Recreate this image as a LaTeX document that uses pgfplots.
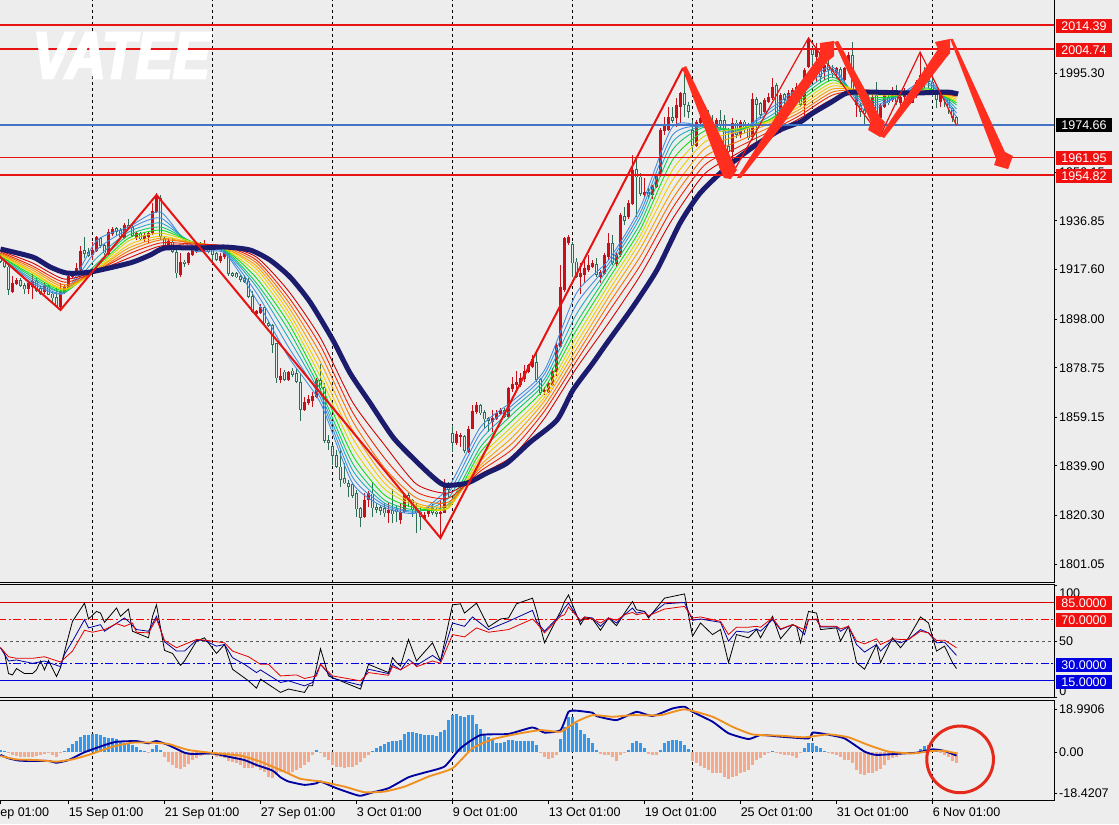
\documentclass[border=0pt]{standalone}
\usepackage{fontspec}
\setmainfont{Liberation Sans}
\newfontfamily\logofont{Liberation Sans}[BoldItalicFeatures={FakeBold=4}]
\usepackage{pgfplots}
\usepackage{pgfplotstable}
\pgfplotsset{compat=1.18}
\newcommand\ticks{\fontsize{9.4}{10}\selectfont}
\definecolor{chartbg}{HTML}{EDEDED}
\definecolor{candlered}{HTML}{C8101A}
\definecolor{candlegreen}{HTML}{2E6E55}
\definecolor{candlefill}{HTML}{E3EFE9}
\definecolor{lvlred}{HTML}{E81212}
\definecolor{lvlblue}{HTML}{4472C4}
\definecolor{boxred}{HTML}{F01010}
\definecolor{boxblue}{HTML}{0000E0}
\definecolor{navy1}{HTML}{1C1C6E}
\definecolor{arrowred}{HTML}{FF2E1E}
\definecolor{histblue}{HTML}{3399EE}
\definecolor{histsalmon}{HTML}{F7A98A}
\definecolor{macdblue}{HTML}{0000A0}
\definecolor{macdorange}{HTML}{F09020}
\definecolor{r1}{HTML}{3F8CE0}
\definecolor{r2}{HTML}{3F8CE0}
\definecolor{r3}{HTML}{20A8C0}
\definecolor{r4}{HTML}{10C860}
\definecolor{r5}{HTML}{10E010}
\definecolor{r6}{HTML}{D8D800}
\definecolor{r7}{HTML}{F8C800}
\definecolor{r8}{HTML}{F8A000}
\definecolor{r9}{HTML}{F87000}
\definecolor{r10}{HTML}{F02000}
\definecolor{r11}{HTML}{D00000}

% i t(1 up/red, 0 down/hollow) high top bottom low
\pgfplotstableread{
i t h u b l
0 0 1924.0 1923.3 1920.7 1920.0
1 0 1922.7 1920.7 1918.7 1918.0
2 0 1919.4 1918.7 1909.5 1907.5
3 1 1915.0 1912.1 1908.8 1908.4
4 1 1914.1 1913.4 1911.8 1911.4
5 0 1914.1 1913.4 1911.0 1910.5
6 0 1912.1 1911.4 1909.7 1908.1
7 1 1913.4 1912.1 1909.7 1907.9
8 1 1915.8 1913.2 1910.8 1905.8
9 0 1914.7 1913.2 1909.2 1908.8
10 0 1911.0 1910.1 1907.9 1907.5
11 1 1912.4 1911.4 1908.8 1907.9
12 0 1911.4 1911.2 1907.7 1907.5
13 0 1909.2 1908.1 1906.2 1904.9
14 0 1910.1 1906.6 1903.1 1902.9
15 1 1912.1 1909.2 1902.9 1901.6
16 1 1911.4 1910.8 1908.4 1907.9
17 1 1915.8 1915.0 1909.7 1909.5
18 1 1917.1 1916.1 1914.7 1914.1
19 1 1920.0 1918.0 1916.1 1915.8
20 1 1926.9 1925.0 1917.4 1916.7
21 0 1930.6 1925.3 1923.7 1922.0
22 0 1926.0 1924.6 1923.1 1922.4
23 1 1928.6 1925.3 1923.3 1921.3
24 1 1930.8 1930.3 1925.0 1924.6
25 0 1930.6 1929.9 1926.9 1926.0
26 0 1927.7 1927.2 1924.0 1923.3
27 1 1933.5 1932.6 1923.7 1922.9
28 1 1934.5 1933.5 1931.6 1931.0
29 0 1934.5 1933.9 1932.6 1930.8
30 0 1933.9 1933.2 1930.6 1930.2
31 1 1935.8 1935.2 1929.9 1929.5
32 0 1937.4 1935.2 1934.3 1933.5
33 0 1935.8 1934.5 1930.8 1930.6
34 1 1932.5 1931.9 1929.9 1929.3
35 0 1932.5 1932.2 1929.5 1929.0
36 1 1931.9 1931.2 1929.5 1928.6
37 1 1932.5 1932.2 1930.6 1927.9
38 1 1943.8 1940.9 1931.9 1931.2
39 1 1947.7 1947.1 1940.5 1940.1
40 0 1947.1 1945.7 1930.6 1929.3
41 0 1930.8 1929.9 1926.9 1925.3
42 1 1929.9 1929.0 1926.0 1925.3
43 0 1929.9 1928.6 1924.6 1924.0
44 0 1925.3 1924.6 1916.1 1914.1
45 1 1924.0 1920.7 1915.4 1914.7
46 0 1921.3 1920.7 1919.8 1918.7
47 1 1924.6 1924.0 1920.0 1919.5
48 1 1927.3 1925.6 1923.3 1922.9
49 1 1928.6 1927.3 1924.6 1924.0
50 0 1928.6 1927.3 1926.0 1924.6
51 1 1929.3 1927.7 1926.4 1924.6
52 0 1927.3 1926.4 1924.6 1924.0
53 0 1927.3 1926.0 1923.3 1920.0
54 0 1924.6 1924.0 1921.3 1921.1
55 1 1924.0 1922.9 1920.9 1920.0
56 1 1926.0 1925.3 1922.4 1921.6
57 0 1926.4 1925.3 1915.8 1915.0
58 0 1916.7 1916.3 1915.1 1914.7
59 0 1916.7 1916.1 1914.5 1914.1
60 0 1915.4 1915.0 1913.4 1912.8
61 0 1915.4 1914.1 1912.8 1912.4
62 0 1914.1 1913.2 1906.8 1906.2
63 0 1909.2 1907.1 1900.9 1900.2
64 1 1901.6 1901.3 1900.0 1899.3
65 1 1903.9 1902.9 1900.5 1900.0
66 0 1902.9 1902.6 1896.3 1895.9
67 0 1897.3 1896.5 1895.2 1894.7
68 0 1896.0 1895.6 1887.7 1884.7
69 0 1888.6 1888.4 1874.5 1872.8
70 1 1878.5 1875.5 1873.9 1872.6
71 0 1877.8 1877.2 1873.9 1873.6
72 1 1877.6 1877.2 1873.9 1873.6
73 0 1878.5 1877.6 1875.9 1874.9
74 0 1878.5 1876.5 1873.2 1872.6
75 0 1876.5 1873.2 1862.0 1857.8
76 1 1867.3 1865.3 1862.0 1861.7
77 1 1867.9 1866.2 1864.9 1864.0
78 1 1869.3 1867.5 1865.7 1863.3
79 1 1874.5 1873.9 1867.3 1866.6
80 0 1880.2 1873.9 1870.6 1867.9
81 0 1872.6 1871.2 1849.9 1848.8
82 0 1852.1 1850.1 1849.1 1846.2
83 0 1848.1 1847.8 1843.8 1840.2
84 0 1846.2 1844.1 1839.6 1838.9
85 0 1846.2 1839.6 1834.3 1831.4
86 0 1840.9 1835.0 1833.0 1832.7
87 0 1834.3 1833.2 1831.7 1827.7
88 0 1833.0 1832.7 1828.0 1827.4
89 0 1830.3 1829.3 1822.7 1819.8
90 0 1823.7 1823.1 1819.5 1815.6
91 1 1829.3 1826.6 1819.8 1819.5
92 1 1830.1 1829.3 1826.4 1823.7
93 0 1833.6 1829.0 1823.1 1819.8
94 0 1825.1 1823.7 1822.4 1821.1
95 0 1824.4 1823.7 1822.0 1820.5
96 0 1825.1 1823.1 1821.1 1819.8
97 1 1825.1 1822.4 1821.1 1817.2
98 0 1830.6 1822.4 1820.7 1817.2
99 0 1824.4 1822.7 1821.6 1817.8
100 1 1825.1 1821.8 1818.5 1816.9
101 1 1829.0 1828.4 1821.8 1821.1
102 0 1829.3 1828.4 1826.4 1823.7
103 0 1827.0 1826.6 1822.4 1819.8
104 0 1825.1 1823.1 1821.1 1813.2
105 0 1823.7 1821.8 1819.8 1814.5
106 1 1821.8 1820.5 1819.1 1818.5
107 1 1823.7 1823.1 1820.9 1819.8
108 0 1824.8 1823.1 1821.4 1820.5
109 0 1823.1 1821.8 1820.9 1819.8
110 1 1826.4 1821.8 1820.9 1811.2
111 1 1834.9 1832.3 1821.4 1821.1
112 0 1833.6 1833.0 1830.3 1827.7
113 0 1856.1 1853.0 1849.1 1845.5
114 1 1853.8 1852.5 1848.8 1848.2
115 1 1852.8 1852.0 1851.4 1847.5
116 0 1852.1 1851.7 1845.9 1844.9
117 1 1855.7 1854.7 1845.5 1845.1
118 1 1864.0 1861.7 1854.7 1854.4
119 1 1865.3 1864.0 1861.3 1860.4
120 0 1864.6 1864.0 1860.7 1860.0
121 0 1862.0 1861.3 1858.3 1855.1
122 0 1859.1 1858.7 1857.6 1853.4
123 1 1862.0 1858.7 1857.4 1853.4
124 1 1862.0 1860.7 1858.4 1858.0
125 1 1862.7 1862.0 1860.4 1860.0
126 0 1862.7 1862.0 1859.4 1858.7
127 1 1871.2 1870.6 1859.1 1858.7
128 1 1874.9 1872.3 1870.2 1869.3
129 1 1877.4 1873.2 1871.9 1869.9
130 1 1876.5 1874.5 1871.9 1871.2
131 1 1879.8 1877.6 1874.1 1873.2
132 1 1880.2 1879.8 1877.2 1876.5
133 1 1883.8 1882.4 1879.1 1878.5
134 0 1885.1 1881.1 1873.9 1873.2
135 0 1874.5 1874.1 1868.9 1867.9
136 1 1871.2 1869.9 1869.3 1867.9
137 1 1873.2 1872.6 1869.3 1868.9
138 1 1878.5 1877.6 1871.9 1871.5
139 1 1888.4 1887.7 1877.2 1875.5
140 1 1919.3 1910.8 1887.0 1886.4
141 1 1930.6 1929.9 1909.5 1908.8
142 1 1931.2 1930.6 1927.9 1927.3
143 0 1928.6 1927.7 1920.0 1914.7
144 0 1922.0 1920.7 1914.7 1914.1
145 1 1920.0 1916.3 1914.7 1908.1
146 1 1921.3 1918.0 1915.4 1912.1
147 1 1923.3 1919.3 1917.4 1916.7
148 1 1921.3 1920.0 1918.7 1918.0
149 0 1922.0 1919.7 1915.4 1914.7
150 1 1917.4 1916.7 1914.7 1912.3
151 1 1924.0 1923.3 1916.0 1915.6
152 1 1931.9 1927.9 1922.6 1921.3
153 0 1931.2 1927.9 1920.0 1919.3
154 1 1924.0 1923.3 1919.7 1918.9
155 1 1940.0 1939.1 1923.3 1922.6
156 0 1942.4 1938.7 1936.9 1935.2
157 1 1945.1 1944.0 1938.5 1937.4
158 1 1962.9 1956.9 1943.7 1943.1
159 0 1960.9 1957.2 1954.0 1938.5
160 0 1955.6 1954.3 1947.4 1946.6
161 1 1953.6 1948.4 1947.1 1946.4
162 0 1949.7 1948.1 1946.6 1945.3
163 1 1951.0 1950.6 1947.1 1945.3
164 1 1955.4 1955.0 1950.3 1949.7
165 1 1973.4 1972.8 1954.6 1954.3
166 1 1978.0 1974.3 1972.5 1970.8
167 1 1982.0 1977.8 1972.8 1972.5
168 0 1982.0 1977.8 1976.5 1975.7
169 1 1985.3 1982.7 1977.4 1974.1
170 1 1987.9 1987.3 1982.0 1975.4
171 0 1996.5 1987.3 1982.7 1978.0
172 0 1984.0 1982.7 1980.0 1977.4
173 0 1976.7 1972.8 1966.4 1964.2
174 1 1976.7 1976.1 1966.4 1965.9
175 1 1978.7 1977.4 1975.4 1974.3
176 0 1980.0 1978.7 1976.7 1974.1
177 0 1980.7 1978.7 1975.4 1974.1
178 0 1978.7 1976.1 1974.1 1973.4
179 1 1977.4 1976.7 1973.4 1972.8
180 0 1980.7 1976.7 1974.7 1973.4
181 0 1978.7 1976.7 1966.4 1965.5
182 0 1973.4 1966.4 1964.2 1962.2
183 1 1977.4 1975.7 1964.2 1959.6
184 0 1976.7 1975.7 1970.8 1969.5
185 1 1976.7 1976.1 1970.8 1969.5
186 0 1976.7 1976.1 1972.8 1971.4
187 0 1975.4 1973.4 1969.5 1968.8
188 1 1987.3 1984.9 1969.9 1968.8
189 0 1985.9 1984.9 1982.7 1962.9
190 0 1984.0 1983.3 1978.7 1977.4
191 1 1985.3 1984.6 1980.0 1979.6
192 1 1987.3 1985.9 1984.0 1983.3
193 1 1993.2 1989.9 1985.3 1984.6
194 0 1991.2 1990.6 1978.7 1978.0
195 1 1987.3 1986.6 1978.7 1971.4
196 0 1987.5 1986.9 1984.6 1978.7
197 1 1988.6 1987.3 1984.6 1982.0
198 1 1989.3 1988.6 1984.6 1983.3
199 1 1991.2 1989.9 1987.9 1985.9
200 0 1987.3 1985.9 1982.7 1982.0
201 1 1997.2 1996.5 1982.7 1978.7
202 1 2009.7 2008.4 1997.8 1997.2
203 0 2005.7 2004.7 2002.4 1993.2
204 1 2007.0 2004.4 2001.8 1991.9
205 0 2004.4 2003.8 1993.9 1991.2
206 1 2003.1 1998.5 1995.8 1992.5
207 0 2003.1 1998.5 1996.5 1991.9
208 0 1998.5 1996.8 1995.2 1993.2
209 1 1997.8 1997.2 1995.2 1993.2
210 0 1997.6 1996.8 1992.5 1990.6
211 1 1997.8 1997.2 1992.5 1991.9
212 1 2003.8 2002.4 1996.5 1995.8
213 0 2007.7 2002.4 1987.3 1986.6
214 1 1988.6 1987.3 1982.6 1978.0
215 0 1984.0 1982.6 1980.0 1978.0
216 0 1985.3 1980.7 1979.3 1974.7
217 0 1987.3 1985.3 1980.0 1979.3
218 1 1988.6 1986.0 1982.6 1981.3
219 0 1991.9 1986.6 1979.3 1978.0
220 1 1983.3 1982.6 1977.4 1976.1
221 1 1987.9 1986.6 1982.0 1981.3
222 0 1987.3 1985.7 1983.3 1982.6
223 1 1989.9 1988.6 1984.6 1983.9
224 0 1990.6 1988.6 1983.9 1982.6
225 1 1987.3 1986.0 1983.3 1978.7
226 1 1989.2 1987.9 1985.7 1984.6
227 0 1988.6 1987.3 1985.3 1983.9
228 1 1988.6 1986.6 1983.6 1983.3
229 1 1992.5 1991.9 1986.2 1985.3
230 1 2003.1 1994.5 1991.5 1990.6
231 0 1997.8 1995.2 1991.2 1989.2
232 0 1995.2 1993.2 1991.9 1989.2
233 0 1995.8 1991.9 1987.3 1985.9
234 0 1988.6 1987.3 1984.6 1981.3
235 1 1988.6 1987.3 1983.9 1982.0
236 0 1988.6 1987.3 1984.6 1982.0
237 0 1985.9 1985.3 1981.3 1979.3
238 0 1982.0 1981.3 1977.4 1976.1
239 0 1978.3 1978.0 1974.7 1974.3
}\candles

\pgfplotstableread{
i a b c d e f g h j k m
0 1922.1 1922.5 1922.5 1922.9 1922.9 1923.3 1923.7 1923.7 1924.1 1924.5 1924.9
8 1912.2 1913.0 1913.8 1914.6 1915.4 1916.2 1916.6 1917.4 1918.2 1919.0 1920.2
16 1908.3 1908.3 1908.7 1908.7 1909.1 1909.5 1909.9 1910.7 1911.5 1912.6 1913.8
24 1928.9 1925.3 1922.1 1919.8 1918.6 1917.8 1917.4 1917.4 1917.0 1917.0 1917.0
32 1934.4 1933.6 1932.4 1931.2 1930.0 1928.9 1927.3 1926.1 1924.9 1923.7 1922.1
40 1940.3 1938.0 1936.0 1934.4 1933.2 1932.0 1930.8 1930.0 1929.3 1928.1 1926.9
48 1925.3 1926.9 1928.1 1928.5 1928.5 1928.5 1928.1 1928.1 1928.1 1927.7 1927.3
56 1924.1 1924.5 1924.9 1925.3 1925.7 1925.7 1926.1 1926.1 1926.5 1926.9 1926.9
64 1905.5 1908.3 1910.7 1912.2 1914.2 1916.2 1917.8 1919.0 1920.2 1921.3 1922.5
72 1883.0 1886.9 1890.5 1893.7 1896.4 1898.8 1900.8 1902.8 1904.7 1906.7 1909.1
80 1864.8 1866.7 1868.3 1869.9 1872.3 1875.1 1877.8 1881.0 1884.2 1887.4 1890.5
88 1833.1 1835.5 1838.3 1841.0 1844.2 1847.4 1851.0 1854.1 1857.7 1861.2 1865.2
96 1823.6 1824.4 1825.2 1826.4 1828.4 1830.8 1833.1 1835.5 1839.1 1843.0 1848.2
104 1821.3 1821.7 1822.0 1822.4 1823.2 1824.0 1824.4 1825.2 1827.2 1829.6 1832.7
112 1831.5 1829.2 1827.2 1824.8 1823.6 1823.2 1823.6 1824.4 1825.6 1827.2 1829.2
120 1855.3 1852.9 1850.1 1847.4 1845.4 1843.4 1841.8 1840.2 1839.1 1837.9 1836.7
128 1865.6 1864.0 1862.4 1860.4 1858.0 1855.7 1853.7 1851.3 1849.0 1846.6 1843.8
136 1877.8 1876.2 1874.3 1872.7 1870.7 1868.7 1867.1 1865.6 1863.6 1861.6 1858.8
144 1908.3 1903.9 1900.0 1896.4 1893.7 1890.9 1888.5 1886.1 1883.8 1881.4 1878.6
152 1921.3 1919.8 1918.2 1916.2 1913.8 1911.5 1909.1 1906.7 1903.9 1900.8 1896.4
160 1942.3 1940.3 1938.4 1936.0 1933.6 1931.2 1928.9 1926.1 1922.9 1919.4 1915.4
168 1974.0 1970.8 1968.0 1964.9 1960.9 1957.0 1953.0 1949.0 1945.5 1941.9 1937.6
176 1974.0 1974.4 1974.4 1974.0 1972.4 1970.4 1968.0 1965.3 1962.1 1958.9 1955.4
184 1971.6 1972.0 1972.4 1972.8 1973.2 1973.2 1972.0 1970.4 1968.0 1965.7 1963.3
192 1980.7 1979.5 1977.9 1976.7 1976.7 1976.3 1975.9 1975.1 1973.6 1972.0 1970.8
200 1989.8 1988.6 1987.0 1985.8 1984.6 1983.4 1982.3 1981.1 1979.9 1978.7 1977.5
208 1997.7 1996.5 1994.9 1993.7 1992.6 1991.4 1990.2 1989.0 1987.8 1986.6 1985.0
216 1980.7 1982.3 1983.5 1984.6 1985.8 1987.0 1987.8 1988.2 1988.6 1988.6 1988.2
224 1985.8 1985.8 1986.2 1986.2 1986.2 1986.6 1986.6 1986.6 1987.0 1987.0 1987.4
232 1992.6 1991.4 1990.6 1989.4 1989.0 1988.6 1988.2 1987.8 1987.8 1987.4 1987.4
239 1977.9 1979.5 1981.1 1982.7 1983.5 1984.2 1985.0 1985.8 1986.2 1986.6 1986.6
}\ribbon

\pgfplotstableread{
i v
0 0.9
1 0.6
2 -0.6
3 -1.3
4 -1.8
5 -2.1
6 -2.1
7 -2.1
8 -2.1
9 -1.8
10 -1.3
11 -0.9
12 -0.6
13 -1.3
14 -2.1
15 -0.6
16 0.6
17 1.6
18 3.6
19 4.9
20 6.8
21 7.6
22 7.7
23 7.9
24 8.0
25 7.6
26 6.8
27 6.5
28 6.5
29 5.7
30 4.6
31 3.9
32 3.9
33 3.1
34 2.4
35 0.9
36 0.6
37 -0.6
38 1.2
39 3.1
40 0.9
41 -2.1
42 -4.3
43 -5.8
44 -7.3
45 -7.7
46 -6.5
47 -5.4
48 -3.6
49 -2.8
50 -1.8
51 -1.3
52 -1.2
53 -1.5
54 -2.1
55 -2.1
56 -2.8
57 -3.9
58 -4.3
59 -5.1
60 -5.8
61 -7.3
62 -7.3
63 -7.3
64 -6.8
65 -8.0
66 -8.8
67 -11.0
68 -11.8
69 -10.3
70 -8.8
71 -8.8
72 -9.2
73 -8.8
74 -8.0
75 -7.3
76 -5.8
77 -4.3
78 -1.3
79 0.9
80 -0.3
81 -2.1
82 -3.6
83 -5.8
84 -6.8
85 -6.8
86 -7.3
87 -6.8
88 -6.5
89 -5.8
90 -4.3
91 -2.8
92 -1.3
93 0.6
94 1.6
95 2.8
96 3.4
97 4.6
98 4.9
99 4.9
100 5.5
101 8.0
102 9.1
103 9.1
104 8.3
105 7.9
106 7.6
107 7.6
108 7.6
109 7.1
110 9.1
111 9.8
112 14.3
113 16.5
114 17.0
115 16.1
116 15.8
117 16.5
118 16.5
119 12.5
120 10.1
121 7.6
122 6.8
123 5.7
124 4.2
125 3.9
126 4.6
127 5.4
128 5.4
129 5.1
130 5.1
131 5.1
132 5.1
133 5.1
134 3.1
135 -0.6
136 -2.1
137 -3.3
138 -2.8
139 -1.3
140 5.7
141 11.3
142 15.5
143 15.8
144 12.8
145 9.8
146 8.0
147 6.1
148 3.9
149 0.9
150 -0.9
151 -1.3
152 -1.3
153 -2.1
154 -3.9
155 -1.3
156 -0.6
157 0.9
158 3.9
159 5.1
160 3.9
161 1.6
162 -0.9
163 -1.3
164 -1.3
165 0.9
166 3.9
167 5.1
168 5.4
169 5.4
170 5.1
171 3.1
172 1.2
173 -3.9
174 -5.1
175 -6.2
176 -7.3
177 -8.0
178 -9.2
179 -9.2
180 -9.2
181 -11.3
182 -12.2
183 -11.0
184 -10.7
185 -9.2
186 -8.8
187 -8.0
188 -5.8
189 -3.6
190 -2.8
191 -1.3
192 -0.3
193 0.6
194 -0.3
195 -0.9
196 -1.3
197 -1.3
198 -1.8
199 -2.8
200 -0.6
201 1.6
202 3.9
203 3.9
204 2.7
205 1.6
206 0.6
207 -0.3
208 -0.9
209 -1.3
210 -2.1
211 -3.6
212 -3.6
213 -4.8
214 -8.0
215 -9.8
216 -10.3
217 -9.5
218 -9.2
219 -8.3
220 -7.7
221 -5.8
222 -3.6
223 -2.8
224 -2.1
225 -1.3
226 -0.9
227 -0.6
228 -0.3
230 1.2
231 2.7
232 3.1
233 0.9
234 0.3
235 -0.1
236 -1.3
237 -2.1
238 -3.9
239 -4.8
}\hist

\newcommand\rib[2]{\addplot[color=#2, line width=0.65pt, smooth, tension=0.4] table[x=i,y=#1]{\ribbon};}
\newcommand\lab[4]{\node[fill=#1, text=#2, minimum width=42pt, minimum height=10.5pt, inner sep=0pt, font=\ticks] at ({1084*0.75pt},{618pt-#3*0.75pt}) {#4};}

\pgfplotsset{
  base/.style={
    scale only axis, width=792pt,
    xmin=-0.625, xmax=263.375,
    no markers,
    axis line style={black, line width=0.75pt},
    tick style={black, line width=0.75pt},
    major tick length=2.5pt,
    tick align=outside,
    tick label style={font=\ticks, inner sep=0pt},
    ytick pos=right, yticklabel pos=right,
    y tick label style={anchor=west, xshift=1.2pt},
    scaled ticks=false,
    major grid style={black, line width=0.75pt, dash pattern=on 2.25pt off 2.25pt},
  },
  vdash/.style={
    xtick={23,53,83,113,143,173,203,233}, xticklabels={},
    xmajorgrids, x tick style={draw=none},
  },
  down/.style={restrict expr to domain={\thisrow{t}}{-0.5:0.5}},
  up/.style={restrict expr to domain={\thisrow{t}}{0.5:1.5}},
}

\begin{document}
\begin{tikzpicture}
\path[use as bounding box] (0,0) rectangle (839.25pt,618pt);
\fill[chartbg] (0,0) rectangle (839.25pt,618pt);

% price panel
\begin{axis}[base, vdash,
  at={(-1.5pt,619.5pt)}, anchor=north west, height=438.75pt,
  ymin=1793.6, ymax=2025,
  ytick={1801.05,1820.30,1839.90,1859.15,1878.75,1898.00,1917.60,1936.85,1956.15,1995.30},
  yticklabels={1801.05,1820.30,1839.90,1859.15,1878.75,1898.00,1917.60,1936.85,1956.15,1995.30},
]
% wicks
\addplot[down, color=candlegreen, line width=0.75pt, quiver={u=0, v=\thisrow{h}-\thisrow{l}}] table[x=i, y=l] {\candles};
\addplot[up, color=candlered, line width=0.75pt, quiver={u=0, v=\thisrow{h}-\thisrow{l}}] table[x=i, y=l] {\candles};
% bodies
\addplot[down, color=candlegreen, line width=2.25pt, quiver={u=0, v=\thisrow{u}-\thisrow{b}}] table[x=i, y=b] {\candles};
\addplot[down, color=candlefill, line width=0.75pt, quiver={u=0, v=\thisrow{u}-\thisrow{b}-0.6}] table[x=i, y expr=\thisrow{b}+0.3] {\candles};
\addplot[up, color=candlered, line width=2.25pt, quiver={u=0, v=\thisrow{u}-\thisrow{b}}] table[x=i, y=b] {\candles};
% ribbon
\rib{a}{r1}\rib{b}{r2}\rib{c}{r3}\rib{d}{r4}\rib{e}{r5}\rib{f}{r6}
\rib{g}{r7}\rib{h}{r8}\rib{j}{r9}\rib{k}{r10}\rib{m}{r11}
% slow average
\addplot[color=navy1, line width=3.75pt, smooth, tension=0.4] coordinates {
(0,1925.7)(8.1,1922.5)(12.4,1918.6)(16.6,1916.2)(22.4,1916.6)(32.4,1920.2)(37.4,1923.3)(41.1,1926.1)
(49.9,1926.1)(56.1,1926.5)(62.4,1925.3)(67.4,1921.3)(72.4,1914.6)(77.4,1904.7)(83.1,1889.7)(87.4,1876.6)
(92.4,1864.8)(98.1,1851.3)(103.1,1843.0)(108.1,1835.5)(111.1,1832.3)(116.6,1833.1)(121.6,1837.1)(126.6,1841.0)
(132.4,1849.3)(139.1,1858.0)(143.1,1869.9)(148.1,1880.6)(151.6,1888.5)(158.1,1902.8)(164.1,1917.4)(169.9,1936.0)
(174.9,1947.8)(181.6,1958.1)(188.1,1966.0)(194.9,1972.8)(199.9,1975.9)(203.1,1979.5)(207.4,1983.5)(211.6,1987.4)
(216.6,1987.8)(228.1,1987.4)(236.6,1987.8)(239.4,1987.0)};
% levels
\addplot[color=lvlred, line width=1.5pt] coordinates {(-0.625,2014.39)(263.375,2014.39)};
\addplot[color=lvlred, line width=1.2pt] coordinates {(-0.625,2004.74)(263.375,2004.74)};
\addplot[color=lvlblue, line width=1.2pt] coordinates {(-0.625,1974.66)(263.375,1974.66)};
\addplot[color=lvlred, line width=1.2pt] coordinates {(-0.625,1961.95)(263.375,1961.95)};
\addplot[color=lvlred, line width=1.5pt] coordinates {(-0.625,1954.82)(263.375,1954.82)};
% zigzag
\addplot[color=lvlred, line width=1.5pt] coordinates {(-0.625,1923.3)(15,1901.6)(39,1947.1)(110,1811.4)(170.6,1997.3)};
\addplot[color=lvlred, line width=0.9pt] coordinates {(170.6,1997.3)(182.5,1954.2)(202,2009.2)(219.9,1970.4)(229.9,2003.6)(239,1974.7)};
% arrows
\addplot[fill=arrowred, draw=none] coordinates {(170.4,1997.3)(171.4,1998.1)(184.1,1957.0)(182.6,1953.4)(180.9,1953.8)(179.9,1957.0)} --cycle;
\addplot[fill=arrowred, draw=none] coordinates {(184.1,1953.8)(194.9,1980.7)(204.9,2002.4)(204.9,2007.2)(208.4,2008.0)(208.4,2002.0)(206.6,1999.7)(194.9,1973.6)(185.1,1953.8)} --cycle;
\addplot[fill=arrowred, draw=none] coordinates {(208.4,2007.6)(209.4,2008.0)(219.9,1977.9)(221.1,1975.9)(219.9,1970.0)(216.9,1972.8)(217.6,1975.9)} --cycle;
\addplot[fill=arrowred, draw=none] coordinates {(219.9,1970.4)(234.4,2004.8)(233.6,2007.6)(237.4,2008.8)(237.4,2003.2)(236.4,2001.3)(220.9,1969.6)} --cycle;
\addplot[fill=arrowred, draw=none] coordinates {(237.4,2008.8)(238.1,2008.8)(251.1,1964.1)(253.1,1962.5)(251.9,1957.3)(248.4,1958.9)(248.9,1961.3)} --cycle;
\end{axis}
\node[text=white, inner sep=0pt] at (91pt,576.4pt) {\resizebox{133pt}{33.75pt}{\logofont\bfseries\itshape VATEE}};

% oscillator panel
\begin{axis}[base, vdash,
  at={(-1.5pt,179.25pt)}, anchor=north west, height=84.15pt,
  ymin=0, ymax=100.7,
  ytick={0,50,100}, yticklabels={,50,},
]
\addplot[color=red!85!black, line width=0.75pt] coordinates {(-0.625,85)(263.375,85)};
\addplot[color=red, line width=1pt, dash pattern=on 6pt off 2pt on 1.5pt off 2pt] coordinates {(-0.625,70)(263.375,70)};
\addplot[color=black!65, line width=0.75pt, dash pattern=on 2.25pt off 2.25pt] coordinates {(-0.625,50)(263.375,50)};
\addplot[color=boxblue, line width=1pt, dash pattern=on 6pt off 2pt on 1.5pt off 2pt] coordinates {(-0.625,30)(263.375,30)};
\addplot[color=boxblue, line width=0.75pt] coordinates {(-0.625,15)(263.375,15)};
\addplot[color=black, line width=0.6pt] coordinates {
(0,44.4)(1,39.9)(2,21.2)(3,20.0)(4,25.7)(6,21.2)(8,21.2)(9,24.5)(10,32.5)(11,24.5)(12,33.0)(13,25.7)(14,18.5)(15,26.5)
(17,54.7)(18,68.1)(21,84.4)(22,70.2)(24,77.0)(25,75.5)(26,67.2)(29,80.0)(30,72.6)(32,79.1)(33,59.2)(37,53.3)(38,72.6)
(39,82.9)(41,42.0)(43,39.3)(45,28.6)(46,32.5)(49,50.3)(51,53.3)(54,39.3)(56,47.3)(58,25.1)(62,14.7)(64,8.1)(65,16.2)
(70,4.3)(72,7.3)(76,4.3)(77,10.2)(78,10.2)(80,43.5)(82,19.1)(90,7.3)(92,29.5)(97,22.1)(98,35.5)(99,31.0)(100,28.0)
(102,51.8)(104,32.5)(108,48.8)(110,32.5)(113,82.9)(115,83.8)(116,75.5)(119,84.4)(122,63.1)(125,70.2)(127,71.1)(129,83.8)
(133,88.9)(134,77.0)(136,48.8)(140,77.0)(141,85.9)(142,91.8)(145,65.1)(146,71.1)(148,70.2)(150,60.1)(152,71.1)(154,64.2)
(156,75.5)(158,85.9)(159,78.5)(161,77.0)(162,71.1)(166,88.9)(171,92.7)(173,54.7)(175,66.6)(178,56.2)(180,60.7)(182,31.0)
(184,56.2)(187,53.3)(189,60.7)(190,53.3)(193,72.6)(195,52.4)(198,65.1)(199,63.6)(200,48.8)(202,77.0)(204,75.5)(205,60.7)
(209,62.2)(210,50.3)(212,63.6)(214,31.0)(216,25.1)(219,47.3)(220,31.0)(223,53.3)(225,44.4)(227,53.3)(230,72.0)(232,66.6)
(234,41.4)(236,45.8)(238,31.0)(239,25.7)};
\addplot[color=macdblue, line width=0.6pt] coordinates {
(0,44.4)(2,32.5)(4,33.4)(8,30.4)(11,32.5)(15,27.4)(16,38.4)(18,50.3)(21,69.6)(22,62.2)(25,65.1)(26,59.2)(31,71.1)(32,68.1)
(34,60.7)(37,59.2)(39,72.6)(41,49.7)(44,41.4)(46,41.4)(49,51.2)(51,50.9)(54,45.8)(56,47.3)(58,35.5)(61,29.5)(64,22.1)
(65,24.5)(70,13.2)(72,14.7)(76,10.2)(78,13.2)(80,29.5)(83,17.0)(90,10.8)(92,25.1)(97,21.2)(98,29.5)(100,24.5)(102,34.0)
(104,28.6)(108,37.5)(110,32.5)(113,66.6)(116,63.6)(118,72.0)(122,60.7)(127,68.1)(133,77.9)(134,68.1)(136,59.2)(140,74.0)
(141,80.0)(142,84.4)(145,68.1)(146,72.0)(148,71.1)(150,63.6)(152,71.1)(154,66.6)(156,74.0)(158,80.0)(159,75.5)(161,77.0)
(162,72.6)(166,83.8)(171,85.0)(173,69.0)(175,70.2)(180,67.2)(182,50.3)(184,59.2)(187,58.3)(189,61.3)(190,59.2)(193,69.6)
(195,60.7)(198,65.1)(199,63.6)(201,56.2)(202,69.6)(204,69.6)(205,63.1)(209,63.1)(210,59.2)(212,63.6)(214,47.3)(216,40.5)
(219,47.3)(220,41.4)(223,51.8)(225,48.8)(227,51.8)(230,60.7)(232,57.7)(234,48.8)(236,49.4)(239,37.5)};
\addplot[color=red!90!black, line width=0.6pt] coordinates {
(0,44.4)(2,36.3)(4,34.9)(8,34.9)(11,36.3)(15,31.6)(18,41.4)(21,60.1)(23,58.3)(26,60.7)(29,66.0)(31,63.6)(33,66.6)(34,58.3)
(37,57.7)(39,70.2)(41,50.9)(44,44.4)(49,51.8)(51,51.2)(56,48.8)(58,41.4)(62,36.3)(65,29.5)(67,29.5)(70,19.1)(74,20.0)
(76,16.8)(79,19.1)(80,29.5)(83,19.1)(90,14.7)(92,22.1)(97,19.7)(98,27.4)(100,24.5)(103,31.0)(104,27.4)(108,32.5)(110,30.4)
(113,56.2)(116,54.1)(119,62.2)(122,58.3)(127,60.7)(133,70.2)(134,66.6)(136,57.7)(140,72.6)(141,74.0)(142,80.9)(145,69.0)
(146,72.0)(148,70.2)(150,66.6)(152,71.1)(154,69.0)(156,74.0)(158,76.1)(159,74.0)(161,75.5)(162,73.1)(166,79.1)(171,81.5)
(173,71.1)(175,72.0)(180,68.1)(182,56.2)(184,62.8)(187,62.8)(189,63.6)(190,62.8)(193,71.1)(195,61.3)(198,65.1)(199,63.6)
(201,60.7)(202,69.6)(204,70.2)(205,63.6)(209,63.6)(210,61.3)(212,63.6)(214,50.3)(216,47.9)(219,52.4)(220,47.3)(223,52.4)
(225,51.8)(227,51.8)(230,59.2)(232,57.7)(234,50.9)(236,51.2)(239,44.4)};
\end{axis}

% macd panel
\begin{axis}[base,
  at={(-1.5pt,92.5pt)}, anchor=north west, height=75.2pt,
  ymin=-21.9, ymax=23,
  ytick={-18.4207,0,18.9906}, yticklabels={-18.4207,0.00,18.9906},
  xtick={-0.1,17,41,65,89,113,137,161,185,209,233},
  xticklabels={ep 01:00,15 Sep 01:00,21 Sep 01:00,27 Sep 01:00,3 Oct 01:00,9 Oct 01:00,13 Oct 01:00,19 Oct 01:00,25 Oct 01:00,31 Oct 01:00,6 Nov 01:00},
  xtick pos=bottom,
  x tick label style={anchor=north west, yshift=-2.6pt},
  extra x ticks={23,53,83,113,143,173,203,233}, extra x tick labels={},
  extra x tick style={xmajorgrids, major tick length=0pt},
]
\addplot[ycomb, color=histblue, line width=2.25pt, restrict y to domain=0:40] table[x=i,y=v] {\hist};
\addplot[ycomb, color=histsalmon, line width=2.25pt, restrict y to domain=-40:0] table[x=i,y=v] {\hist};
\addplot[color=macdblue, line width=1.4pt, smooth, tension=0.3] coordinates {
(0,-1.3)(2,-2.8)(5,-3.9)(12,-4.0)(14,-4.8)(17,-3.6)(21,-0.1)(26,3.1)(29,4.6)(34,4.9)(37,3.9)(39,4.9)(42,3.1)(46,-0.3)(48,-0.9)
(53,-0.6)(57,-2.1)(61,-3.6)(64,-5.8)(68,-8.3)(70,-11.3)(72,-13.2)(76,-14.7)(79,-14.0)(80,-13.2)(84,-16.2)(88,-18.7)(90,-19.6)
(93,-18.1)(97,-16.2)(102,-11.3)(106,-9.2)(111,-6.5)(115,1.7)(120,7.6)(127,8.1)(133,11.0)(136,8.7)(140,9.8)(142,18.0)(144,18.5)
(148,17.6)(149,16.1)(154,14.3)(159,18.0)(163,16.1)(168,19.5)(171,20.3)(173,18.0)(178,13.6)(182,8.4)(187,5.8)(190,7.6)(195,6.9)
(202,6.1)(203,8.7)(206,8.1)(211,6.1)(216,0.2)(219,-1.3)(226,-0.6)(229,-0.3)(233,1.2)(236,0.5)(239,-1.6)};
\addplot[color=macdorange, line width=1.4pt, smooth, tension=0.3] coordinates {
(0,-1.8)(4,-3.3)(9,-3.6)(14,-4.3)(18,-3.3)(22,-1.3)(28,2.4)(33,4.2)(38,4.2)(42,3.6)(47,0.9)(54,-0.6)(60,-1.6)(65,-4.3)(71,-8.8)
(75,-12.0)(80,-13.2)(86,-15.5)(91,-18.0)(96,-17.7)(101,-15.5)(107,-11.0)(113,-7.3)(118,1.7)(123,5.7)(129,8.1)(135,9.8)(140,9.1)
(144,13.6)(148,16.5)(153,15.8)(158,16.5)(165,16.5)(171,19.1)(178,15.8)(183,11.3)(188,7.9)(195,7.3)(201,6.6)(207,7.9)(212,6.6)
(217,3.1)(222,0.2)(228,-0.6)(233,0.5)(236,0.5)(239,-0.6)};
\draw[draw=arrowred!90!black, line width=2.25pt] (axis cs:239.9,-3.3) circle[radius=25pt];
\end{axis}

% value boxes
\node[anchor=west, font=\ticks, inner sep=0pt] at ({1059*0.75pt},{618pt-593*0.75pt}) {100};
\node[anchor=west, font=\ticks, inner sep=0pt] at ({1059*0.75pt},{618pt-691.5*0.75pt}) {0};
\lab{boxred}{white}{26}{2014.39}
\lab{boxred}{white}{50}{2004.74}
\lab{black}{white}{125}{1974.66}
\lab{boxred}{white}{158.5}{1961.95}
\lab{boxred}{white}{176}{1954.82}
\lab{boxred}{white}{603.5}{85.0000}
\lab{boxred}{white}{620.5}{70.0000}
\lab{boxblue}{white}{665}{30.0000}
\lab{boxblue}{white}{682}{15.0000}
\end{tikzpicture}
\end{document}
